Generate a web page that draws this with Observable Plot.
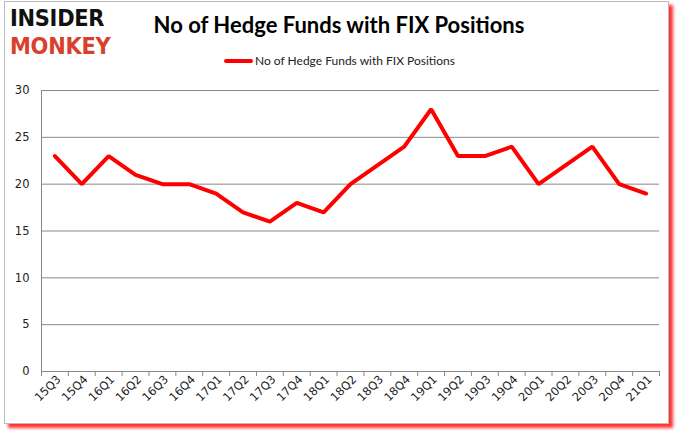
<!DOCTYPE html>
<html><head><meta charset="utf-8">
<script src="https://cdn.jsdelivr.net/npm/d3@7"></script>
<script src="https://cdn.jsdelivr.net/npm/@observablehq/plot@0.6"></script>
<style>
body{margin:0;background:#fff;}
#wrap{position:relative;width:678px;height:431px;overflow:hidden;background:#fff;}
#frame{position:absolute;left:4px;top:1px;width:663px;height:421px;border:1px solid #bbb;box-shadow:4px 4px 3px #f33;background:#fff;}
.logo{position:absolute;left:10px;font-family:"DejaVu Sans";font-weight:bold;font-size:21px;line-height:24px;transform-origin:0 0;transform:scale(1,1.1);letter-spacing:-0.3px;}
#l1{top:5px;color:#111;}
#l2{top:33px;color:#d9402b;}
#title{position:absolute;left:0;width:678px;top:11px;text-align:center;font-family:Lato,"Open Sans";font-weight:bold;font-size:22px;color:#000;}
#legend{position:absolute;left:224px;top:53px;font-family:Lato,"Open Sans";font-size:12px;color:#222;display:flex;align-items:center;}
#legend .sw{width:29px;height:4px;background:#ff0000;border-radius:2px;margin-right:2px;}
#chart{position:absolute;left:0;top:0;}
</style></head>
<body>
<div id="wrap">
<div id="frame"></div>
<div class="logo" id="l1">INSIDER</div>
<div class="logo" id="l2">MONKEY</div>
<div id="title">No of Hedge Funds with FIX Positions</div>
<div id="legend"><div class="sw"></div><span>No of Hedge Funds with FIX Positions</span></div>
<div id="chart"></div>
</div>
<script>
const quarters = ["15Q3","15Q4","16Q1","16Q2","16Q3","16Q4","17Q1","17Q2","17Q3","17Q4","18Q1","18Q2","18Q3","18Q4","19Q1","19Q2","19Q3","19Q4","20Q1","20Q2","20Q3","20Q4","21Q1"];
const funds = [23,20,23,21,20,20,19,17,16,18,17,20,22,24,28,23,23,24,20,22,24,20,19];
const yTicks = [0,5,10,15,20,25,30];

const data = quarters.map((q,i)=>({i, q, v: funds[i]}));
const idx = quarters.map((q,i)=>i);
const bounds = quarters.map((q,i)=>i-0.5).concat([quarters.length-0.5]);

const chart = Plot.plot({
  width: 678, height: 431,
  marginLeft: 41, marginRight: 19, marginTop: 90, marginBottom: 60,
  style: {background: "transparent", fontFamily: "DejaVu Sans", fontSize: "11px", color: "#222"},
  x: {type: "linear", domain: [-0.5, quarters.length-0.5]},
  y: {domain: [0, 30]},
  marks: [
    Plot.ruleY(yTicks.filter(d=>d>0), {stroke: "#888", strokeWidth: 1, strokeOpacity: 1}),
    Plot.axisY({ticks: yTicks, tickSize: 0, tickPadding: 12, label: null, fontSize: 11.5}),
    Plot.ruleX([-0.5], {y1: 0, y2: 30, stroke: "#888"}),
    Plot.ruleY([0], {stroke: "#888"}),
    Plot.axisX({ticks: bounds, tickSize: 5, tickFormat: () => "", stroke: "#888", label: null}),
    Plot.axisX({ticks: idx, tickSize: 0, tickPadding: 6, tickRotate: -45, dx: 4, tickFormat: i => quarters[i], label: null, fontSize: 11.5}),
    Plot.line(data, {x: "i", y: "v", stroke: "#ff0000", strokeWidth: 4, strokeLinejoin: "miter"})
  ]
});
document.getElementById("chart").appendChild(chart);
</script>
</body></html>
